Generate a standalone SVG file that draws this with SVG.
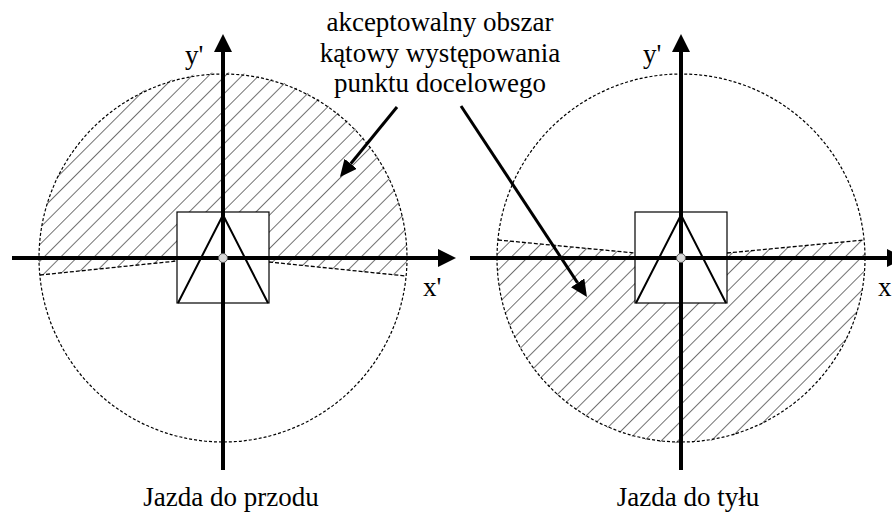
<svg xmlns="http://www.w3.org/2000/svg" width="892" height="515" viewBox="0 0 892 515">
  <style>
    .lbl { font-family: "Liberation Serif", "Times New Roman", serif; font-size: 27px; fill: #000; }
    .circ { fill: none; stroke: #000; stroke-width: 1.2; stroke-dasharray: 3 2; }
    .bound { fill: none; stroke: #000; stroke-width: 1.3; stroke-dasharray: 4 2; }
    .hatch { fill: url(#hatch); stroke: none; }
    .robot { fill: #fff; stroke: #000; stroke-width: 1.2; }
    .tri { fill: none; stroke: #000; stroke-width: 2; stroke-linejoin: miter; }
    .axis { stroke: #000; stroke-width: 4; fill: none; }
    .dot { fill: #d9d9d9; stroke: #555; stroke-width: 1; }
    .ptr { stroke: #000; stroke-width: 3; fill: none; }
  </style>
  <defs>
    <pattern id="hatch" patternUnits="userSpaceOnUse" width="11.8" height="11.8" patternTransform="rotate(45)">
      <line x1="0" y1="0" x2="0" y2="11.8" stroke="#000" stroke-width="1.1"/>
    </pattern>
    <marker id="axhead" markerUnits="userSpaceOnUse" viewBox="0 0 18 18" refX="0" refY="9" markerWidth="18" markerHeight="18" orient="auto">
      <path d="M0,0 L18,9 L0,18 z" fill="#000"/>
    </marker>
    <marker id="ptrhead" markerUnits="userSpaceOnUse" viewBox="0 0 17 16" refX="0" refY="8" markerWidth="17" markerHeight="16" orient="auto">
      <path d="M0,0 L17,8 L0,16 z" fill="#000"/>
    </marker>
  </defs>

  <g id="left-diagram">
    <circle class="circ" cx="223" cy="258" r="184"/>
    <path class="hatch" d="M40,275 L177,261 L269,262 L406,276 A184,184 0 1 0 40,275 Z"/>
    <line class="bound" x1="40" y1="275" x2="177" y2="261"/>
    <line class="bound" x1="269" y1="262" x2="406" y2="276"/>
    <rect class="robot" x="177" y="212" width="92" height="91"/>
    <polyline class="tri" points="178,303 223,215 268,303"/>
    <line class="axis" x1="12" y1="258" x2="438" y2="258" marker-end="url(#axhead)"/>
    <line class="axis" x1="223" y1="470" x2="223" y2="52" marker-end="url(#axhead)"/>
    <circle class="dot" cx="223" cy="258" r="4.5"/>
    <text class="lbl" x="185" y="64">y'</text>
    <text class="lbl" x="423" y="296">x'</text>
  </g>

  <g id="right-diagram">
    <circle class="circ" cx="681" cy="258" r="184"/>
    <path class="hatch" d="M498,240 L635,253 L727,253 L864,240 A184,184 0 1 1 498,240 Z"/>
    <line class="bound" x1="498" y1="240" x2="635" y2="253"/>
    <line class="bound" x1="727" y1="253" x2="864" y2="240"/>
    <rect class="robot" x="635" y="212" width="92" height="91"/>
    <polyline class="tri" points="636,303 681,215 726,303"/>
    <line class="axis" x1="470" y1="258" x2="887" y2="258" marker-end="url(#axhead)"/>
    <line class="axis" x1="681" y1="470" x2="681" y2="52" marker-end="url(#axhead)"/>
    <circle class="dot" cx="681" cy="258" r="4.5"/>
    <text class="lbl" x="643" y="63">y'</text>
    <text class="lbl" x="878" y="296">x'</text>
  </g>

  <g id="annotation">
    <text class="lbl" text-anchor="middle" x="440" y="30.5">akceptowalny obszar</text>
    <text class="lbl" text-anchor="middle" x="440" y="61.5">kątowy występowania</text>
    <text class="lbl" text-anchor="middle" x="440" y="92">punktu docelowego</text>
  </g>

  <g id="caption-left">
    <text class="lbl" text-anchor="middle" x="231" y="506">Jazda do przodu</text>
  </g>
  <g id="caption-right">
    <text class="lbl" text-anchor="middle" x="688" y="506">Jazda do tyłu</text>
  </g>

  <g id="connectors">
    <line class="ptr" x1="397" y1="107" x2="350.7" y2="163.8" marker-end="url(#ptrhead)"/>
    <line class="ptr" x1="461" y1="106" x2="577.6" y2="282.8" marker-end="url(#ptrhead)"/>
  </g>
</svg>
